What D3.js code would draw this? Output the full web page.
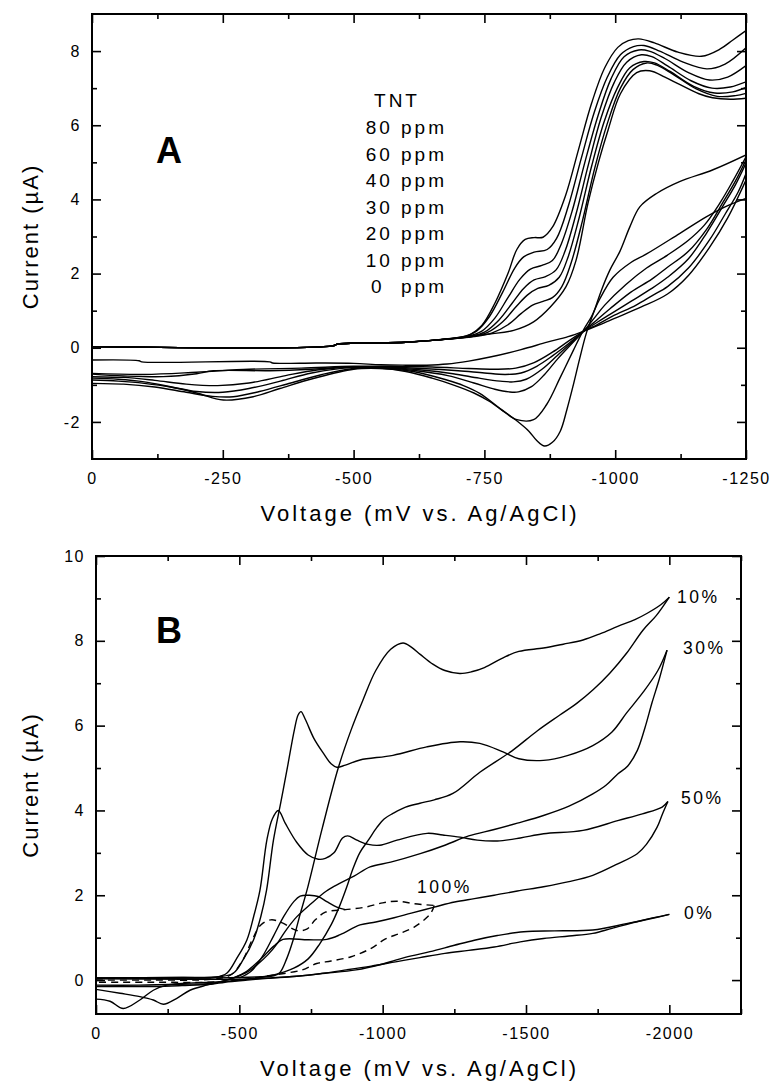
<!DOCTYPE html>
<html>
<head>
<meta charset="utf-8">
<script src="https://cdn.jsdelivr.net/npm/d3@7"></script>
<style>
  body { margin: 0; background: #fff; }
  svg text { font-family: "Liberation Sans", Arial, Helvetica, sans-serif; fill: #000; }
</style>
</head>
<body>
<svg id="chart" width="775" height="1081"></svg>
<script>
// ---------- panel A : TNT concentrations, [mV, uA] ----------
const concA = ['80 ppm', '60 ppm', '40 ppm', '30 ppm', '20 ppm', '10 ppm', '0  ppm']

const fwdA80 = [[0,0.03],[-460,0.05],[-470,0.1],[-600,0.15],[-650,0.2],[-700,0.28],[-722,0.35],[-745,0.6],[-770,1.2],[-795,2.0],[-812,2.65],[-828,2.92],[-845,2.97],[-862,2.98],[-880,3.25],[-905,4.1],[-930,5.35],[-955,6.6],[-980,7.55],[-1005,8.1],[-1025,8.28],[-1045,8.33],[-1075,8.22],[-1120,7.97],[-1165,7.86],[-1200,8.05],[-1225,8.3],[-1250,8.55]]
const fwdA60 = [[0,0.03],[-460,0.05],[-470,0.1],[-600,0.15],[-650,0.2],[-710,0.3],[-735,0.45],[-760,0.85],[-785,1.5],[-808,2.15],[-825,2.45],[-845,2.58],[-870,2.65],[-888,2.95],[-910,3.8],[-935,5.1],[-960,6.35],[-985,7.3],[-1010,7.9],[-1035,8.12],[-1055,8.15],[-1085,8.0],[-1130,7.7],[-1175,7.52],[-1210,7.65],[-1250,8.09]]
const fwdA40 = [[0,0.03],[-460,0.05],[-470,0.1],[-600,0.15],[-650,0.2],[-715,0.3],[-745,0.45],[-770,0.8],[-795,1.35],[-818,1.85],[-838,2.12],[-860,2.22],[-880,2.35],[-897,2.8],[-918,3.7],[-942,5.0],[-967,6.25],[-992,7.25],[-1017,7.85],[-1045,8.03],[-1065,8.0],[-1095,7.8],[-1140,7.42],[-1180,7.22],[-1215,7.3],[-1250,7.61]]
const fwdA30 = [[0,0.03],[-460,0.05],[-470,0.1],[-600,0.15],[-650,0.2],[-720,0.3],[-750,0.42],[-778,0.75],[-803,1.2],[-825,1.6],[-845,1.83],[-867,1.92],[-887,2.1],[-904,2.6],[-925,3.6],[-949,4.95],[-973,6.2],[-998,7.15],[-1022,7.7],[-1050,7.9],[-1070,7.85],[-1100,7.6],[-1145,7.2],[-1185,7.0],[-1220,7.03],[-1250,7.17]]
const fwdA20 = [[0,0.03],[-460,0.05],[-470,0.1],[-600,0.15],[-650,0.2],[-725,0.3],[-757,0.42],[-785,0.7],[-810,1.1],[-832,1.42],[-852,1.6],[-873,1.68],[-893,1.9],[-910,2.45],[-931,3.5],[-955,4.9],[-979,6.1],[-1004,7.0],[-1028,7.55],[-1055,7.72],[-1075,7.68],[-1105,7.45],[-1150,7.05],[-1190,6.87],[-1225,6.9],[-1250,7.02]]
const fwdA10 = [[0,0.03],[-460,0.05],[-470,0.1],[-600,0.15],[-650,0.2],[-730,0.3],[-765,0.4],[-795,0.62],[-820,0.92],[-842,1.15],[-862,1.25],[-880,1.35],[-898,1.65],[-916,2.3],[-937,3.4],[-961,4.85],[-985,6.05],[-1010,7.0],[-1034,7.5],[-1060,7.68],[-1080,7.62],[-1110,7.38],[-1155,6.98],[-1195,6.78],[-1230,6.8],[-1250,6.86]]
const fwdA0 = [[0,0.03],[-460,0.05],[-470,0.1],[-600,0.15],[-650,0.2],[-704,0.27],[-760,0.37],[-806,0.47],[-844,0.7],[-876,1.1],[-906,1.65],[-925,2.35],[-948,3.9],[-968,5.0],[-987,5.9],[-1010,6.85],[-1041,7.42],[-1066,7.47],[-1095,7.3],[-1123,7.1],[-1160,6.85],[-1186,6.74],[-1220,6.7],[-1250,6.73]]

const revA80 = [[-1250,4.52],[-1215,3.5],[-1180,2.7],[-1140,1.95],[-1100,1.45],[-1050,1.1],[-1000,0.8],[-970,0.62],[-940,0.45],[-910,0.3],[-870,0.15],[-820,-0.05],[-761,-0.25],[-720,-0.36],[-679,-0.44],[-640,-0.47],[-600,-0.47],[-552,-0.46],[-500,-0.42],[-430,-0.41],[-345,-0.41],[-340,-0.38],[-95,-0.38],[-90,-0.35],[0,-0.33]]
const revA60 = [[-1250,4.7],[-1235,4.2],[-1210,3.6],[-1180,2.9],[-1140,2.15],[-1100,1.65],[-1070,1.4],[-1040,1.15],[-995,0.85],[-965,0.62],[-940,0.45],[-910,0.17],[-880,-0.12],[-845,-0.4],[-810,-0.55],[-770,-0.58],[-720,-0.56],[-650,-0.52],[-560,-0.5],[-500,-0.5],[-400,-0.55],[-300,-0.58],[-200,-0.66],[-100,-0.72],[0,-0.69]]
const revA40 = [[-1250,4.98],[-1230,4.4],[-1205,3.8],[-1175,3.1],[-1140,2.4],[-1100,1.9],[-1070,1.6],[-1030,1.25],[-990,0.9],[-965,0.68],[-940,0.45],[-910,0.1],[-880,-0.22],[-850,-0.5],[-820,-0.68],[-790,-0.72],[-750,-0.68],[-700,-0.62],[-630,-0.56],[-560,-0.52],[-500,-0.51],[-420,-0.58],[-340,-0.62],[-232,-0.62],[-200,-0.7],[-136,-0.78],[-60,-0.76],[0,-0.71]]
const revA30 = [[-1250,5.07],[-1230,4.5],[-1205,3.9],[-1175,3.2],[-1140,2.6],[-1100,2.17],[-1070,1.85],[-1030,1.5],[-990,1.05],[-965,0.75],[-940,0.45],[-915,0.12],[-890,-0.2],[-860,-0.58],[-830,-0.85],[-805,-0.92],[-780,-0.9],[-740,-0.82],[-690,-0.7],[-630,-0.6],[-560,-0.54],[-500,-0.52],[-430,-0.6],[-370,-0.75],[-300,-0.95],[-240,-1.02],[-180,-0.98],[-120,-0.88],[-60,-0.8],[0,-0.78]]
const revA20 = [[-1250,5.15],[-1225,4.5],[-1200,3.9],[-1170,3.3],[-1140,2.9],[-1100,2.5],[-1060,2.15],[-1020,1.7],[-980,1.15],[-960,0.8],[-940,0.45],[-915,0.08],[-890,-0.3],[-865,-0.72],[-840,-1.05],[-815,-1.19],[-797,-1.19],[-770,-1.12],[-730,-0.95],[-680,-0.75],[-620,-0.62],[-560,-0.55],[-500,-0.53],[-420,-0.68],[-360,-0.9],[-300,-1.1],[-250,-1.2],[-200,-1.18],[-150,-1.05],[-100,-0.92],[-50,-0.85],[0,-0.82]]
const revA10 = [[-1250,4.03],[-1210,3.8],[-1174,3.53],[-1123,3.08],[-1060,2.53],[-1030,2.3],[-996,1.9],[-970,1.3],[-955,0.85],[-939,0.47],[-920,-0.07],[-895,-0.8],[-869,-1.53],[-844,-1.94],[-812,-1.94],[-790,-1.75],[-760,-1.45],[-730,-1.22],[-690,-1.0],[-650,-0.82],[-600,-0.64],[-550,-0.55],[-500,-0.56],[-440,-0.72],[-380,-0.95],[-320,-1.18],[-270,-1.32],[-230,-1.31],[-180,-1.2],[-120,-1.06],[-60,-0.98],[0,-0.96]]
const revA0 = [[-1250,5.2],[-1187,4.8],[-1123,4.48],[-1079,4.16],[-1047,3.8],[-1028,3.26],[-1009,2.6],[-990,2.1],[-975,1.6],[-960,1.0],[-945,0.4],[-932,-0.3],[-920,-1.0],[-908,-1.65],[-895,-2.25],[-880,-2.55],[-865,-2.65],[-850,-2.5],[-835,-2.25],[-810,-1.95],[-780,-1.64],[-741,-1.23],[-710,-1.02],[-678,-0.87],[-614,-0.64],[-550,-0.56],[-500,-0.58],[-423,-0.83],[-359,-1.1],[-308,-1.32],[-251,-1.41],[-200,-1.22],[-150,-1.06],[-100,-0.96],[-50,-0.9],[0,-0.87]]

const xMajorA = [0, -250, -500, -750, -1000, -1250]
const xMinorA = [-125, -375, -625, -875, -1125]
const yMajorA = [-2, 0, 2, 4, 6, 8]
const yMinorA = [-1, 1, 3, 5, 7]

// ---------- panel B : percentages, [mV, uA] ----------
const fwdB10 = [[0,0.04],[-200,0.04],[-400,0.05],[-500,0.06],[-580,0.08],[-620,0.1],[-642,0.18],[-665,0.5],[-688,0.95],[-712,1.55],[-736,2.12],[-790,3.6],[-845,5.0],[-890,5.9],[-931,6.6],[-976,7.3],[-1028,7.8],[-1071,7.95],[-1100,7.85],[-1131,7.68],[-1175,7.45],[-1217,7.3],[-1269,7.23],[-1310,7.27],[-1355,7.37],[-1420,7.6],[-1475,7.75],[-1561,7.83],[-1630,7.92],[-1699,8.02],[-1760,8.17],[-1820,8.34],[-1880,8.5],[-1923,8.65],[-1970,8.85],[-2000,9.03]]
const revB10 = [[-2000,9.03],[-1955,8.6],[-1908,8.25],[-1850,7.7],[-1793,7.24],[-1735,6.85],[-1678,6.53],[-1618,6.25],[-1540,5.88],[-1450,5.4],[-1339,4.9],[-1245,4.4],[-1180,4.25],[-1130,4.17],[-1080,4.08],[-1036,3.93],[-1005,3.8],[-980,3.6],[-950,3.3],[-920,3.0],[-895,2.6],[-875,2.2],[-850,1.75],[-820,1.3],[-780,0.85],[-740,0.5],[-690,0.28],[-620,0.12],[-540,0.03],[-470,-0.02],[-400,-0.05],[-300,-0.08],[-247,-0.12],[-200,-0.24],[-153,-0.47],[-95,-0.67],[-49,-0.5],[0,-0.45]]
const fwdB30 = [[0,0.05],[-300,0.06],[-430,0.08],[-479,0.16],[-515,0.5],[-549,0.94],[-575,1.5],[-595,2.12],[-619,3.3],[-645,4.2],[-670,5.1],[-692,5.9],[-705,6.25],[-715,6.33],[-730,6.15],[-760,5.7],[-793,5.35],[-820,5.1],[-840,5.02],[-870,5.07],[-921,5.19],[-1036,5.3],[-1154,5.5],[-1270,5.62],[-1339,5.58],[-1420,5.38],[-1475,5.22],[-1561,5.18],[-1647,5.3],[-1733,5.53],[-1800,5.85],[-1851,6.3],[-1910,6.8],[-1960,7.3],[-1992,7.78]]
const revB30 = [[-1992,7.78],[-1965,7.1],[-1940,6.55],[-1915,5.95],[-1888,5.41],[-1855,5.05],[-1820,4.86],[-1780,4.6],[-1733,4.39],[-1650,4.1],[-1561,3.88],[-1470,3.7],[-1389,3.55],[-1300,3.4],[-1217,3.18],[-1131,2.98],[-1028,2.78],[-956,2.67],[-900,2.45],[-850,2.28],[-804,2.1],[-750,1.8],[-700,1.49],[-660,1.15],[-632,0.86],[-600,0.6],[-565,0.38],[-530,0.2],[-480,0.05],[-430,-0.05],[-386,-0.12],[-328,-0.24],[-282,-0.43],[-235,-0.57],[-200,-0.47],[-153,-0.39],[-84,-0.31],[0,-0.22]]
const fwdB50 = [[0,0.05],[-300,0.06],[-420,0.07],[-456,0.16],[-490,0.5],[-526,0.94],[-550,1.5],[-572,2.12],[-596,3.3],[-615,3.8],[-636,4.0],[-660,3.7],[-700,3.25],[-740,2.95],[-775,2.85],[-800,2.87],[-830,3.0],[-860,3.35],[-878,3.4],[-910,3.3],[-950,3.2],[-990,3.18],[-1050,3.3],[-1155,3.46],[-1210,3.42],[-1270,3.37],[-1330,3.3],[-1400,3.28],[-1480,3.35],[-1561,3.45],[-1699,3.53],[-1820,3.76],[-1906,3.92],[-1975,4.08],[-1995,4.21]]
const revB50 = [[-1995,4.21],[-1975,3.9],[-1957,3.6],[-1920,3.2],[-1888,2.98],[-1820,2.74],[-1733,2.47],[-1650,2.32],[-1561,2.2],[-1470,2.1],[-1389,2.0],[-1320,1.92],[-1251,1.84],[-1180,1.72],[-1100,1.58],[-1040,1.47],[-976,1.37],[-921,1.3],[-852,1.07],[-805,0.96],[-740,0.95],[-652,0.96],[-620,0.8],[-590,0.6],[-560,0.4],[-520,0.18],[-480,0.05],[-440,-0.03],[-400,-0.08],[-300,-0.1],[-150,-0.12],[0,-0.12]]
const fwdB100 = [[0,0.0],[-200,0.0],[-400,0.02],[-470,0.12],[-510,0.45],[-545,0.95],[-575,1.3],[-610,1.42],[-650,1.35],[-700,1.17],[-735,1.2],[-765,1.42],[-800,1.6],[-870,1.66],[-940,1.72],[-1000,1.82],[-1050,1.86],[-1110,1.8],[-1180,1.76]]
const revB100 = [[-1180,1.76],[-1170,1.6],[-1150,1.45],[-1110,1.25],[-1060,1.1],[-1010,0.97],[-960,0.75],[-890,0.55],[-820,0.45],[-770,0.39],[-720,0.24],[-650,0.15],[-580,0.08],[-500,0.0],[-400,-0.05],[-200,-0.05],[0,-0.05]]
const humpB = [[-500,0.05],[-540,0.2],[-580,0.55],[-620,1.05],[-655,1.5],[-690,1.85],[-712,1.98],[-745,2.0],[-775,1.97],[-805,1.85],[-840,1.72],[-870,1.66]]
const fwdB0 = [[0,0.03],[-300,0.02],[-500,0.02],[-600,0.05],[-700,0.09],[-800,0.16],[-907,0.24],[-1000,0.38],[-1045,0.47],[-1100,0.57],[-1165,0.67],[-1250,0.82],[-1320,0.94],[-1400,1.05],[-1492,1.14],[-1600,1.16],[-1733,1.18],[-1850,1.33],[-1950,1.47],[-2000,1.55]]
const revB0 = [[-2000,1.55],[-1900,1.4],[-1800,1.22],[-1733,1.1],[-1650,1.04],[-1561,0.98],[-1480,0.9],[-1389,0.78],[-1300,0.7],[-1217,0.63],[-1130,0.53],[-1045,0.43],[-960,0.33],[-873,0.24],[-780,0.15],[-700,0.09],[-600,0.04],[-528,0.0],[-450,-0.05],[-400,-0.1],[-300,-0.13],[-200,-0.15],[0,-0.15]]

const labelsB = ['10%', '30%', '50%', '100%', '0%']
const xMajorB = [0, -500, -1000, -1500, -2000]
const xMinorB = [-250, -750, -1250, -1750, -2250]
const yMajorB = [0, 2, 4, 6, 8, 10]
const yMinorB = [1, 3, 5, 7, 9]

const svg = d3.select('#chart')
const tickFont = 16
const tickSpacing = 1.5

function drawPanel(p) {
  const x = d3.scaleLinear().domain(p.xDomain).range(p.xRange)
  const y = d3.scaleLinear().domain(p.yDomain).range(p.yRange)
  const [x0, x1] = p.xRange
  const [y0, y1] = p.yRange   // y0 bottom, y1 top

  svg.append('clipPath').attr('id', 'clip' + p.id)
    .append('rect').attr('x', x0).attr('y', y1).attr('width', x1 - x0).attr('height', y0 - y1)

  const line = d3.line().x(d => x(d[0])).y(d => y(d[1])).curve(d3.curveCatmullRom.alpha(0.5))
  const plot = svg.append('g').attr('clip-path', `url(#clip${p.id})`)
  p.curves.forEach(c => {
    plot.append('path').attr('d', line(c.values))
      .attr('fill', 'none').attr('stroke', '#000').attr('stroke-width', 1.4)
      .attr('stroke-linejoin', 'round')
      .attr('stroke-dasharray', c.dashed ? '7,5' : null)
  })

  const fmt = d => String(d)
  const axes = [
    { axis: d3.axisBottom(x).tickValues(p.xMajor).tickSize(-9).tickPadding(14).tickFormat(fmt), t: `translate(0,${y0})` },
    { axis: d3.axisBottom(x).tickValues(p.xMinor).tickSize(-5).tickFormat(''), t: `translate(0,${y0})` },
    { axis: d3.axisTop(x).tickValues(p.xMajor).tickSize(-9).tickFormat(''), t: `translate(0,${y1})` },
    { axis: d3.axisTop(x).tickValues(p.xMinor).tickSize(-5).tickFormat(''), t: `translate(0,${y1})` },
    { axis: d3.axisLeft(y).tickValues(p.yMajor).tickSize(-9).tickPadding(11).tickFormat(fmt), t: `translate(${x0},0)` },
    { axis: d3.axisLeft(y).tickValues(p.yMinor).tickSize(-5).tickFormat(''), t: `translate(${x0},0)` },
    { axis: d3.axisRight(y).tickValues(p.yMajor).tickSize(-9).tickFormat(''), t: `translate(${x1},0)` },
    { axis: d3.axisRight(y).tickValues(p.yMinor).tickSize(-5).tickFormat(''), t: `translate(${x1},0)` }
  ]
  axes.forEach(a => {
    const g = svg.append('g').attr('transform', a.t).call(a.axis)
    g.select('.domain').remove()
    g.selectAll('line').attr('stroke', '#000').attr('stroke-width', 1.6)
    g.attr('font-family', null).attr('font-size', null)
    g.selectAll('text').style('font-size', tickFont + 'px').style('letter-spacing', tickSpacing + 'px')
  })

  svg.append('rect').attr('x', x0).attr('y', y1).attr('width', x1 - x0).attr('height', y0 - y1)
    .attr('fill', 'none').attr('stroke', '#000').attr('stroke-width', 2)

  svg.append('text').attr('x', (x0 + x1) / 2 + 1).attr('y', y0 + 62)
    .attr('text-anchor', 'middle').style('font-size', '22px').style('letter-spacing', '3px')
    .text('Voltage (mV vs. Ag/AgCl)')

  svg.append('text').attr('transform', `translate(38,${(y0 + y1) / 2}) rotate(-90)`)
    .attr('text-anchor', 'middle').style('font-size', '22px').style('letter-spacing', '2px')
    .text('Current (\u00b5A)')

  svg.append('text').attr('x', 156).attr('y', p.letterY)
    .style('font-size', '36px').style('font-weight', 'bold').text(p.letter)

  return { x, y }
}

drawPanel({
  id: 'A', letter: 'A', letterY: 163,
  xDomain: [0, -1250], xRange: [92, 746],
  yDomain: [-3, 9], yRange: [459, 14],
  xMajor: xMajorA, xMinor: xMinorA, yMajor: yMajorA, yMinor: yMinorA,
  curves: [fwdA80, fwdA60, fwdA40, fwdA30, fwdA20, fwdA10, fwdA0,
           revA80, revA60, revA40, revA30, revA20, revA10, revA0].map(v => ({ values: v }))
})

// TNT legend
const legend = svg.append('g').style('font-size', '19px').style('letter-spacing', '3px')
legend.append('text').attr('x', 397).attr('y', 107).attr('text-anchor', 'middle').text('TNT')
legend.selectAll('text.conc').data(concA).enter().append('text')
  .attr('class', 'conc')
  .attr('x', 447).attr('y', (d, i) => 134 + i * 26.5)
  .attr('text-anchor', 'end').style('white-space', 'pre')
  .text(d => d)

drawPanel({
  id: 'B', letter: 'B', letterY: 643,
  xDomain: [0, -2250], xRange: [96, 741],
  yDomain: [-0.8, 10], yRange: [1014, 556],
  xMajor: xMajorB, xMinor: xMinorB, yMajor: yMajorB, yMinor: yMinorB,
  curves: [
    { values: fwdB10 }, { values: revB10 },
    { values: fwdB30 }, { values: revB30 },
    { values: fwdB50 }, { values: revB50 },
    { values: fwdB100, dashed: true }, { values: revB100, dashed: true },
    { values: humpB },
    { values: fwdB0 }, { values: revB0 }
  ]
})

// percentage labels, placed beside the curve ends
const labelPos = [[677, 603], [683, 654], [681, 804], [417, 893], [684, 919]]
svg.append('g').style('font-size', '17.5px').style('letter-spacing', '2.5px')
  .selectAll('text').data(labelsB).enter().append('text')
  .attr('x', (d, i) => labelPos[i][0]).attr('y', (d, i) => labelPos[i][1])
  .text(d => d)
</script>
</body>
</html>
